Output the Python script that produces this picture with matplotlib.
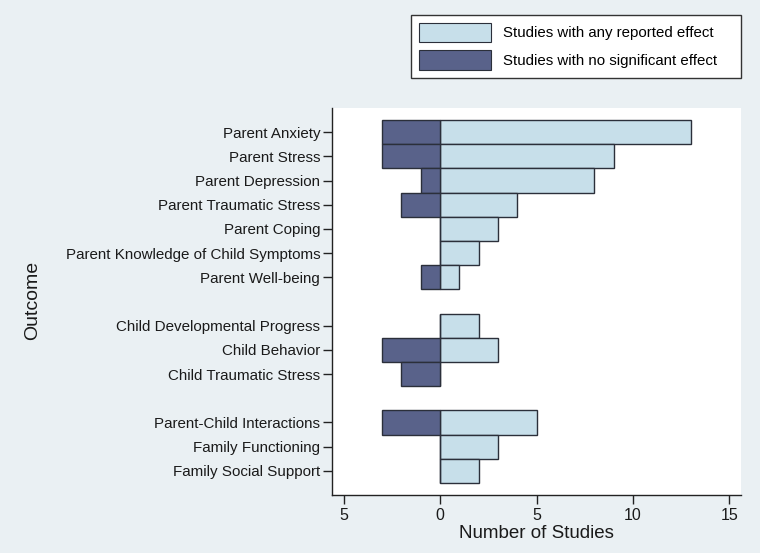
import matplotlib
matplotlib.use("Agg")
import matplotlib.pyplot as plt
from matplotlib.patches import Patch

plt.rcParams['font.family'] = ['Liberation Sans', 'DejaVu Sans']

# Data
parent_outcomes = ["Parent Anxiety", "Parent Stress", "Parent Depression",
                   "Parent Traumatic Stress", "Parent Coping",
                   "Parent Knowledge of Child Symptoms", "Parent Well-being"]
child_outcomes = ["Child Developmental Progress", "Child Behavior",
                  "Child Traumatic Stress"]
family_outcomes = ["Parent-Child Interactions", "Family Functioning",
                   "Family Social Support"]

parent_any = [13, 9, 8, 4, 3, 2, 1]
parent_none = [3, 3, 1, 2, 0, 0, 1]
child_any = [2, 3, 0]
child_none = [0, 3, 2]
family_any = [5, 3, 2]
family_none = [3, 0, 0]

xticks = [-5, 0, 5, 10, 15]
xticklabels = ["5", "0", "5", "10", "15"]

groups = [(parent_outcomes, parent_any, parent_none),
          (child_outcomes, child_any, child_none),
          (family_outcomes, family_any, family_none)]

labels, pos, any_vals, none_vals = [], [], [], []
p = 0
for names, a, n in groups:
    for nm, av, nv in zip(names, a, n):
        labels.append(nm)
        pos.append(p)
        any_vals.append(av)
        none_vals.append(nv)
        p += 1
    p += 1  # gap between groups

bg = "#eaf0f3"
light = "#c7dfea"
dark = "#59628a"
edge = "#2b2f3a"

fig = plt.figure(figsize=(7.6, 5.53), dpi=100, facecolor=bg)
ax = fig.add_axes([332/760, 1-495/553, (741-332)/760, (495-108)/553])
ax.set_facecolor("white")

ax.barh(pos, any_vals, height=1.0, left=0, color=light, edgecolor=edge, linewidth=1.0)
ax.barh(pos, [-v for v in none_vals], height=1.0, left=0, color=dark, edgecolor=edge, linewidth=1.0)

ax.set_ylim(15, -1)
ax.set_xlim(-5.6, 15.6)
ax.set_yticks(pos)
ax.set_yticklabels(labels, fontsize=10.9, color="#1a1a1a")
ax.set_xticks(xticks)
ax.set_xticklabels(xticklabels, fontsize=11.5, color="#1a1a1a")
ax.tick_params(axis='both', direction='out', length=6.5, width=1.0, color="#222222")
ax.tick_params(axis='y', pad=2)
ax.tick_params(axis='x', pad=2.5)
for s in ["top", "right"]:
    ax.spines[s].set_visible(False)
for s in ["left", "bottom"]:
    ax.spines[s].set_color("#222222")
    ax.spines[s].set_linewidth(1.0)

fig.text(33/760, 1-300/553, "Outcome", rotation=90, ha="center", va="center",
         fontsize=14, color="#1a1a1a")
fig.text(536/760, 1-533/553, "Number of Studies", ha="center", va="center",
         fontsize=13.5, color="#1a1a1a")

handles = [Patch(facecolor=light, edgecolor=edge, linewidth=0.8, label="Studies with any reported effect"),
           Patch(facecolor=dark, edgecolor=edge, linewidth=0.8, label="Studies with no significant effect")]
leg = fig.legend(handles=handles, loc="upper left",
                 bbox_to_anchor=(411/760, 1-79/553, 330/760, 64/553), mode="expand",
                 borderaxespad=0,
                 fancybox=False, framealpha=1, edgecolor="#333333",
                 fontsize=10.85, handlelength=4.8, handleheight=1.66,
                 labelspacing=0.53, handletextpad=0.8, borderpad=0.5)
leg.get_frame().set_linewidth(1.0)

fig.savefig("out.png", dpi=100, facecolor=bg)
